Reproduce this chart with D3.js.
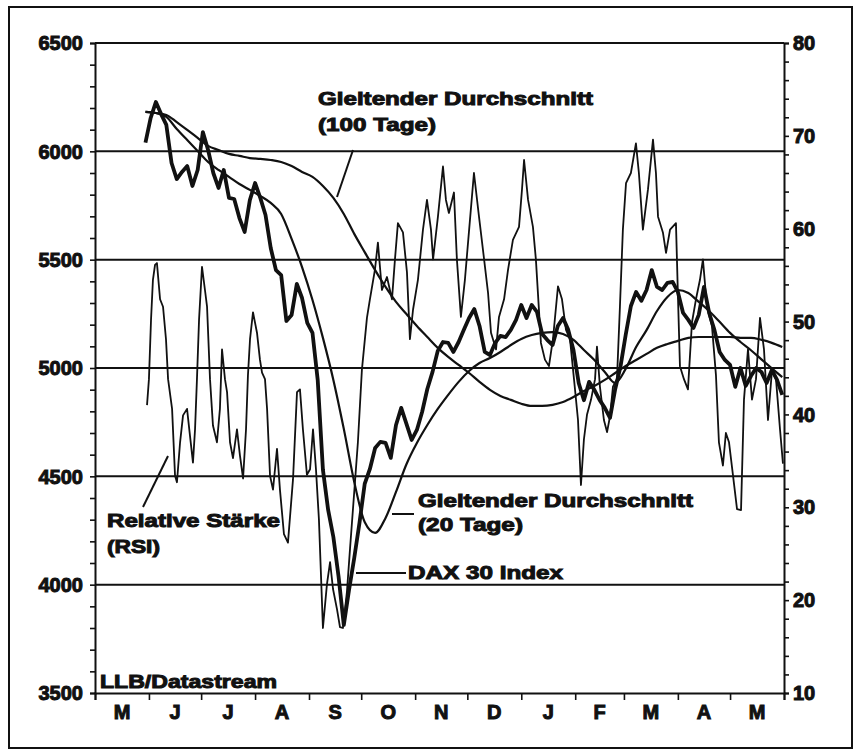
<!DOCTYPE html>
<html>
<head>
<meta charset="utf-8">
<script src="https://cdnjs.cloudflare.com/ajax/libs/d3/7.8.5/d3.min.js"></script>
<style>
  body { margin: 0; background: #fff; }
  svg text { font-family: "Liberation Sans", Arial, sans-serif; font-weight: bold; fill: #111; }
</style>
</head>
<body>
<svg width="856" height="756"></svg>
<script>
const svg = d3.select('svg');

// ---- data ----
const monthLabels = ['M', 'J', 'J', 'A', 'S', 'O', 'N', 'D', 'J', 'F', 'M', 'A', 'M'];
const leftTicks = [3500, 4000, 4500, 5000, 5500, 6000, 6500];
const rightTicks = [10, 20, 30, 40, 50, 60, 70, 80];

// DAX 30 index, one value every 3 days starting 30 May 1998
const daxFirstDay = 29;
const daxStep = 3;
const dax = [
  6040, 6154, 6228, 6172, 6122, 5946, 5872, 5905, 5932, 5840,
  5914, 6089, 6006, 5900, 5831, 5914, 5785, 5780, 5692, 5628,
  5775, 5854, 5785, 5706, 5554, 5452, 5429, 5217, 5245, 5388,
  5323, 5208, 5162, 4945, 4530, 4345, 4220, 4036, 3814, 3976,
  4123, 4285, 4465, 4534, 4631, 4659, 4654, 4585, 4737, 4816,
  4742, 4668, 4714, 4797, 4903, 4982, 5079, 5120, 5116, 5074,
  5120, 5176, 5231, 5272, 5194, 5074, 5060, 5116, 5148, 5143,
  5176, 5222, 5291, 5231, 5291, 5259, 5157, 5129, 5106, 5194,
  5231, 5176, 5083, 4931, 4851, 4936, 4899, 4853, 4816, 4770,
  4903, 5005, 5152, 5286, 5351, 5310, 5360, 5452, 5374, 5360,
  5393, 5397, 5351, 5254, 5222, 5185, 5245, 5374, 5254, 5176,
  5074, 5037, 5014, 4913, 5000, 4917, 4963, 5000, 4982, 4931,
  4991, 4945, 4876
];

// moving averages, one value every 6 days starting 30 May 1998
const maFirstDay = 29;
const maStep = 6;
const ma20 = [
  6182, 6177, 6159, 6103, 6052, 6002, 5951, 5914, 5882, 5849,
  5822, 5794, 5762, 5711, 5596, 5466, 5314, 5139, 4945, 4719,
  4474, 4289, 4239, 4308, 4428, 4556, 4654, 4737, 4811, 4876,
  4936, 4986, 5023, 5046, 5074, 5106, 5134, 5152, 5162, 5166,
  5157, 5130, 5083, 5037, 4982, 4931, 4996, 5097, 5175, 5263,
  5328, 5360, 5346, 5305, 5263, 5213, 5162, 5120, 5082, 5040,
  4999, 4958
];
const ma100 = [
  6182, 6177, 6168, 6135, 6099, 6062, 6025, 6006, 5988, 5979,
  5969, 5965, 5960, 5951, 5932, 5905, 5882, 5840, 5785, 5711,
  5619, 5535, 5452, 5374, 5305, 5249, 5194, 5143, 5093, 5051,
  5014, 4977, 4936, 4899, 4871, 4853, 4835, 4825, 4825, 4830,
  4843, 4866, 4894, 4917, 4945, 4977, 5009, 5037, 5065, 5093,
  5111, 5125, 5139, 5143, 5143, 5143, 5143, 5139, 5139, 5130,
  5116, 5097
];

// RSI (right axis), days counted from 1 May 1998
const rsiDays = [
  29.9, 31.0, 32.2, 33.3, 34.5, 35.6, 37.4, 39.1, 40.8, 42.0,
  44.3, 46.0, 47.1, 48.9, 50.6, 52.9, 54.6, 56.3, 57.5, 58.6,
  59.8, 61.5, 63.2, 64.4, 66.1, 67.8, 70.1, 71.8, 73.0, 74.7,
  75.9, 77.6, 79.3, 81.6, 83.3, 85.1, 86.8, 87.9, 89.1, 90.8,
  93.1, 94.8, 96.0, 97.7, 98.9, 100.6, 102.3, 104.6, 106.3, 108.6,
  110.9, 113.8, 116.1, 117.8, 119.5, 121.8, 123.6, 125.3, 127.0, 128.7,
  131.0, 133.3, 135.1, 136.8, 139.1, 140.8, 142.5, 144.8, 146.6, 148.3,
  151.1, 153.4, 156.3, 158.0, 160.9, 162.6, 164.9, 167.8, 170.7, 172.4,
  174.1, 177.0, 179.3, 181.0, 182.8, 185.6, 188.5, 190.8, 193.1, 194.3,
  197.1, 200.0, 201.7, 203.4, 206.3, 208.0, 210.3, 212.6, 214.9, 217.8,
  220.7, 223.0, 225.9, 227.6, 230.5, 232.2, 235.1, 237.4, 240.2, 243.7,
  245.4, 246.6, 248.9, 251.7, 253.4, 256.3, 258.6, 260.9, 263.2, 266.1,
  268.4, 270.7, 273.0, 275.3, 277.6, 279.3, 281.0, 282.8, 285.1, 287.4,
  288.5, 290.2, 292.5, 294.3, 296.0, 297.7, 300.0, 301.7, 303.4, 305.2,
  308.0, 310.9, 312.6, 314.9, 317.8, 320.7, 322.4, 323.6, 326.4, 328.2,
  330.5, 333.9, 335.1, 336.2, 338.5, 340.8, 343.1, 345.4, 347.7, 349.4,
  351.7, 354.6, 356.9, 358.6, 360.9, 362.6, 364.4, 366.7, 369.0, 371.3,
  373.0, 375.3, 377.6, 379.9, 382.2, 384.5, 386.8, 389.1, 391.4, 393.7,
  395.4
];
const rsiValues = [
  41.0, 43.8, 50.2, 54.5, 56.1, 56.3, 52.4, 51.6, 48.1, 43.8,
  40.6, 33.4, 32.7, 37.0, 39.9, 40.6, 37.7, 34.8, 38.4, 43.8,
  50.2, 55.9, 53.4, 51.6, 43.8, 38.8, 37.0, 40.6, 47.0, 43.8,
  42.4, 37.0, 35.3, 38.4, 35.6, 33.1, 38.4, 44.2, 48.1, 51.0,
  48.8, 45.9, 44.5, 43.8, 40.6, 33.4, 31.9, 36.3, 31.9, 27.1,
  26.2, 33.0, 42.4, 42.7, 38.4, 33.5, 34.1, 38.4, 34.1, 28.7,
  17.0, 21.7, 24.1, 21.2, 19.0, 17.1, 17.0, 20.9, 25.6, 29.9,
  37.0, 44.8, 50.4, 52.4, 55.6, 58.5, 53.4, 54.8, 52.4, 56.7,
  60.6, 59.6, 55.3, 48.1, 51.3, 54.5, 59.9, 63.1, 59.9, 56.7,
  61.3, 66.7, 63.1, 61.7, 63.9, 56.7, 50.5, 54.5, 59.6, 66.0,
  61.3, 57.7, 53.1, 48.8, 47.0, 50.5, 52.4, 55.6, 58.8, 60.2,
  64.2, 67.4, 63.1, 60.2, 56.7, 47.7, 45.9, 45.2, 48.1, 53.8,
  52.4, 49.1, 48.1, 43.8, 39.4, 32.4, 37.3, 40.0, 41.6, 43.8,
  47.3, 43.0, 39.4, 38.1, 39.8, 43.0, 43.8, 51.6, 59.9, 64.9,
  66.0, 69.2, 66.0, 59.9, 64.2, 69.6, 66.0, 61.3, 59.6, 57.4,
  59.9, 60.6, 52.4, 45.2, 43.8, 42.7, 49.9, 52.4, 54.5, 56.7,
  51.6, 49.5, 44.2, 37.0, 34.5, 38.0, 37.0, 33.4, 29.8, 29.7,
  41.6, 47.0, 41.6, 43.8, 50.4, 47.0, 39.4, 44.8, 43.8, 38.4,
  34.7
];

// ---- layout ----
const margin = {top: 43, left: 95, right: 72, bottom: 63};
const W = +svg.attr('width'), H = +svg.attr('height');
const x0 = margin.left, x1 = W - margin.right;
const y0 = margin.top, y1 = H - margin.bottom;

const start = new Date(1998, 4, 1);
const end = new Date(1999, 5, 1);
const totalDays = d3.timeDay.count(start, end);

const x = d3.scaleLinear().domain([0, totalDays]).range([x0, x1]);
const yL = d3.scaleLinear().domain([3500, 6500]).range([y1, y0]);
const yR = d3.scaleLinear().domain([10, 80]).range([y1, y0]);

// outer frame of the scan
svg.append('rect')
  .attr('x', 9).attr('y', 7).attr('width', 843).attr('height', 741)
  .attr('fill', 'none').attr('stroke', '#111').attr('stroke-width', 2);

// grid lines at the left-axis values
svg.append('g').selectAll('line')
  .data(leftTicks.slice(1))
  .enter().append('line')
    .attr('x1', x0).attr('x2', x1)
    .attr('y1', d => yL(d)).attr('y2', d => yL(d))
    .attr('stroke', '#111').attr('stroke-width', 2);

// axes
const ink = '#111';
const leftAxis = d3.axisLeft(yL).tickValues(d3.range(3500, 6501, 100)).tickSize(5).tickFormat('');
const rightAxis = d3.axisRight(yR).tickValues(d3.range(10, 81, 2)).tickSize(5).tickFormat('');
const months = d3.timeMonth.range(start, d3.timeDay.offset(end, 1)).map(m => d3.timeDay.count(start, m));
const bottomAxis = d3.axisBottom(x).tickValues(months).tickSize(7).tickFormat('');

[[leftAxis, `translate(${x0},0)`], [rightAxis, `translate(${x1},0)`], [bottomAxis, `translate(0,${y1})`]]
  .forEach(([ax, tr]) => {
    const g = svg.append('g').attr('transform', tr).call(ax);
    g.select('.domain').attr('stroke', ink).attr('stroke-width', 2);
    g.selectAll('.tick line').attr('stroke', ink).attr('stroke-width', 1.6);
  });

// tick labels (heavy, like the printed original)
const thick = sel => sel.attr('stroke', '#111').attr('stroke-width', 1);
svg.append('g').selectAll('text')
  .data(leftTicks)
  .enter().append('text')
    .attr('x', 83).attr('y', d => yL(d)).attr('dy', '0.36em')
    .attr('text-anchor', 'end').attr('font-size', 20)
    .text(d => d)
    .call(thick);

svg.append('g').selectAll('text')
  .data(rightTicks)
  .enter().append('text')
    .attr('x', 793).attr('y', d => yR(d)).attr('dy', '0.36em')
    .attr('font-size', 20)
    .text(d => d)
    .call(thick);

svg.append('g').selectAll('text')
  .data(monthLabels)
  .enter().append('text')
    .attr('x', (d, i) => x((months[i] + months[i + 1]) / 2))
    .attr('y', 719)
    .attr('text-anchor', 'middle').attr('font-size', 20)
    .text(d => d)
    .call(thick);

// ---- series ----
const daxPts = dax.map((v, i) => [daxFirstDay + i * daxStep, v]);
const ma20Pts = ma20.map((v, i) => [maFirstDay + i * maStep, v]);
const ma100Pts = ma100.map((v, i) => [maFirstDay + i * maStep, v]);
const rsiPts = rsiDays.map((d, i) => [d, rsiValues[i]]);

const lineL = d3.line().x(d => x(d[0])).y(d => yL(d[1]));
const lineSmooth = d3.line().x(d => x(d[0])).y(d => yL(d[1])).curve(d3.curveMonotoneX);
const lineR = d3.line().x(d => x(d[0])).y(d => yR(d[1]));

svg.append('path').datum(rsiPts)
  .attr('d', lineR).attr('fill', 'none')
  .attr('stroke', ink).attr('stroke-width', 1.8).attr('stroke-linejoin', 'round');

svg.append('path').datum(ma100Pts)
  .attr('d', lineSmooth).attr('fill', 'none')
  .attr('stroke', ink).attr('stroke-width', 2.2);

svg.append('path').datum(ma20Pts)
  .attr('d', lineSmooth).attr('fill', 'none')
  .attr('stroke', ink).attr('stroke-width', 2.2);

svg.append('path').datum(daxPts)
  .attr('d', lineL).attr('fill', 'none')
  .attr('stroke', ink).attr('stroke-width', 3.8).attr('stroke-linejoin', 'round');

// ---- annotations ----
const notes = [
  {lines: ['Gleitender Durchschnitt', '(100 Tage)'], x: 318, ys: [105, 131], widths: [275, 118]},
  {lines: ['Relative Stärke', '(RSI)'], x: 107, ys: [527, 553], widths: [173, 53]},
  {lines: ['Gleitender Durchschnitt', '(20 Tage)'], x: 418, ys: [507, 531], widths: [275, 105]},
  {lines: ['DAX 30 Index'], x: 408, ys: [579], widths: [155]},
  {lines: ['LLB/Datastream'], x: 100, ys: [688], widths: [177]}
];
const leaders = [
  [353, 150, 337, 197],
  [143, 507, 168, 456],
  [392, 514, 414, 514],
  [356, 573, 406, 573]
];

notes.forEach(n => {
  n.lines.forEach((t, i) => {
    svg.append('text')
      .attr('x', n.x).attr('y', n.ys[i])
      .attr('font-size', 19)
      .attr('textLength', n.widths[i])
      .attr('lengthAdjust', 'spacingAndGlyphs')
      .text(t)
      .call(thick);
  });
});

svg.append('g').selectAll('line')
  .data(leaders)
  .enter().append('line')
    .attr('x1', d => d[0]).attr('y1', d => d[1])
    .attr('x2', d => d[2]).attr('y2', d => d[3])
    .attr('stroke', ink).attr('stroke-width', 2);
</script>
</body>
</html>
